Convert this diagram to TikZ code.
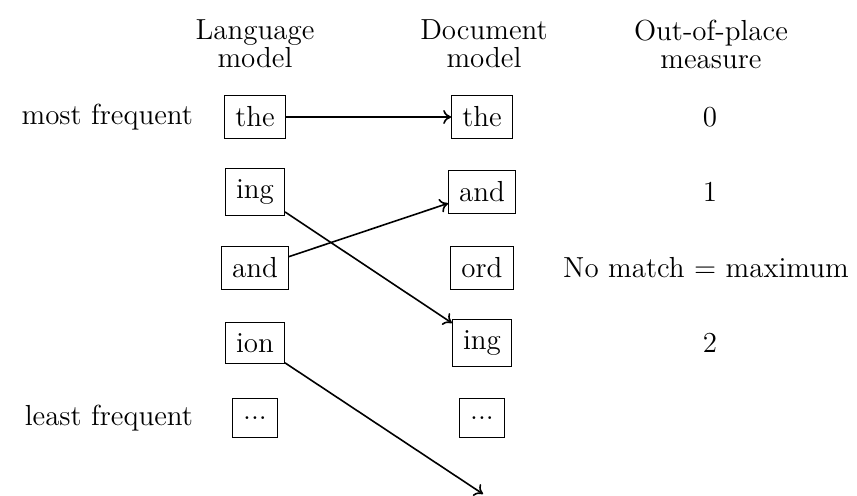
\documentclass[tikz,border=0pt]{standalone}
\usetikzlibrary{arrows.meta}
\begin{document}
\begin{tikzpicture}[x=0.5pt,y=-0.5pt,
  every node/.style={font=\fontsize{14.5}{14}\selectfont},
  word/.style={draw, line width=0.5pt, inner xsep=5.3pt, inner ysep=5.6pt, minimum height=19.5pt},
  hdr/.style={align=center, font=\fontsize{14.5}{14}\selectfont},
  conn/.style={line width=0.8pt, -{To[length=4pt,width=7pt]}}]
\useasboundingbox (0,0) rectangle (857,495);
% headers
\node[hdr] (h1) at (255,44) {Language\\model};
\node[hdr] (h2) at (484,44) {Document\\model};
\node[hdr] (h3) at (711,44) {Out-of-place\\measure};
% side labels
\node[anchor=east] (most) at (200,117) {most frequent};
\node[anchor=east] (least) at (200,418) {least frequent};
% language model column
\node[word] (lthe) at (255,117) {the};
\node[word] (ling) at (255,192) {ing};
\node[word] (land) at (255,268) {and};
\node[word] (lion) at (255,343) {ion};
\node[word] (ldots) at (255,418) {...};
% document model column
\node[word] (dthe) at (482,117) {the};
\node[word] (dand) at (482,192) {and};
\node[word] (dord) at (482,268) {ord};
\node[word] (ding) at (482,343) {ing};
\node[word] (ddots) at (482,418) {...};
\coordinate (dout) at (483,494);
% measures
\node (m0) at (710,117) {0};
\node (m1) at (710,192) {1};
\node (mx) at (706,268) {No match = maximum};
\node (m2) at (710,343) {2};
% connectors
\draw[conn] (lthe) -- (dthe);
\draw[conn] (ling) -- (ding);
\draw[conn] (land) -- (dand);
\draw[conn] (lion) -- (dout);
\end{tikzpicture}
\end{document}
